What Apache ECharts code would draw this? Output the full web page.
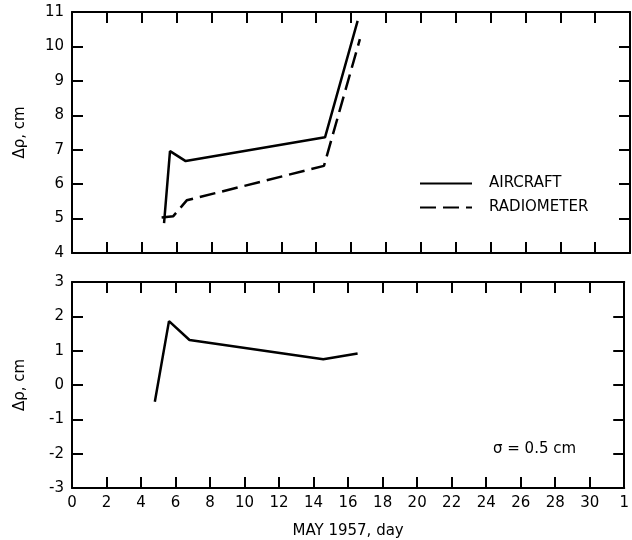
<!DOCTYPE html>
<html>
<head>
<meta charset="utf-8">
<script src="https://cdn.jsdelivr.net/npm/echarts@6/dist/echarts.min.js"></script>
<style>
  html, body { margin: 0; padding: 0; background: #fff; }
  #chart { width: 632px; height: 540px; }
</style>
</head>
<body>
<div id="chart"></div>
<script>
// Path difference, May 1957 (days of month; day 32 = 1 June)
const aircraftDay = [5.28, 5.62, 6.52, 14.51, 16.38];
const aircraftDelta = [4.87, 6.96, 6.67, 7.36, 10.74];
const radiometerDay = [5.14, 5.81, 6.58, 14.45, 16.51];
const radiometerDelta = [5.03, 5.07, 5.53, 6.53, 10.21];
const diffDay = [4.80, 5.62, 6.81, 14.56, 16.55];
const diffDelta = [-0.49, 1.86, 1.31, 0.75, 0.92];
const dayTickLabels = ['0', '2', '4', '6', '8', '10', '12', '14', '16', '18', '20', '22', '24', '26', '28', '30', '1'];
const seriesNames = ['AIRCRAFT', 'RADIOMETER'];
const yName = 'Δρ, cm';
const xName = 'MAY 1957, day';
const sigmaNote = 'σ = 0.5 cm';

const FONT = 'DejaVu Sans';
const pairs = (xs, ys) => xs.map((x, i) => [x, ys[i]]);

function axisBase(extra) {
  return Object.assign({
    type: 'value',
    splitLine: { show: false },
    axisLine: { show: true, onZero: false, lineStyle: { color: '#000', width: 2 } },
    axisTick: { show: true, inside: true, length: 11, lineStyle: { color: '#000', width: 2 } },
    axisLabel: { show: false }
  }, extra);
}

const xCommon = { min: 0, max: 32, interval: 2 };
const shownLabel = { show: true, color: '#000', fontSize: 15, fontFamily: FONT, margin: 8 };
const nameStyle = { color: '#000', fontSize: 15, fontFamily: FONT };

const option = {
  backgroundColor: '#fff',
  animation: false,
  grid: [
    { left: 72, top: 12, width: 558, height: 241 },
    { left: 72, top: 282, width: 558, height: 206 }
  ],
  xAxis: [
    axisBase(Object.assign({ gridIndex: 0, position: 'bottom' }, xCommon)),
    axisBase(Object.assign({ gridIndex: 0, position: 'top' }, xCommon)),
    axisBase(Object.assign({
      gridIndex: 1, position: 'bottom',
      axisLabel: Object.assign({}, shownLabel, { formatter: v => dayTickLabels[Math.round(v / 2)] }),
      name: xName, nameLocation: 'middle', nameGap: 36,
      nameTextStyle: nameStyle
    }, xCommon)),
    axisBase(Object.assign({ gridIndex: 1, position: 'top' }, xCommon))
  ],
  yAxis: [
    axisBase({
      gridIndex: 0, position: 'left', min: 4, max: 11, interval: 1,
      axisLabel: shownLabel,
      name: yName, nameLocation: 'middle', nameGap: 44,
      nameTextStyle: nameStyle
    }),
    axisBase({ gridIndex: 0, position: 'right', min: 4, max: 11, interval: 1 }),
    axisBase({
      gridIndex: 1, position: 'left', min: -3, max: 3, interval: 1,
      axisLabel: shownLabel,
      name: yName, nameLocation: 'middle', nameGap: 44,
      nameTextStyle: nameStyle
    }),
    axisBase({ gridIndex: 1, position: 'right', min: -3, max: 3, interval: 1 })
  ],
  legend: {
    data: seriesNames,
    orient: 'vertical',
    left: 414,
    top: 171,
    itemWidth: 52,
    itemHeight: 16,
    itemGap: 9,
    itemStyle: { opacity: 0 },
    textStyle: { color: '#000', fontSize: 15, fontFamily: FONT, padding: [0, 0, 0, 12] }
  },
  graphic: [
    {
      type: 'text',
      left: 493,
      top: 442,
      style: { text: sigmaNote, fill: '#000', font: '15px "DejaVu Sans"' }
    }
  ],
  series: [
    {
      name: seriesNames[0], type: 'line', xAxisIndex: 0, yAxisIndex: 0,
      symbol: 'none', data: pairs(aircraftDay, aircraftDelta),
      lineStyle: { color: '#000', width: 2.5 }, itemStyle: { color: '#000' }
    },
    {
      name: seriesNames[1], type: 'line', xAxisIndex: 0, yAxisIndex: 0,
      symbol: 'none', data: pairs(radiometerDay, radiometerDelta),
      lineStyle: { color: '#000', width: 2.5, type: [16, 7] }, itemStyle: { color: '#000' }
    },
    {
      type: 'line', xAxisIndex: 2, yAxisIndex: 2,
      symbol: 'none', data: pairs(diffDay, diffDelta),
      lineStyle: { color: '#000', width: 2.5 }, itemStyle: { color: '#000' }
    }
  ]
};

echarts.init(document.getElementById('chart'), null, { renderer: 'canvas' }).setOption(option);
</script>
</body>
</html>
